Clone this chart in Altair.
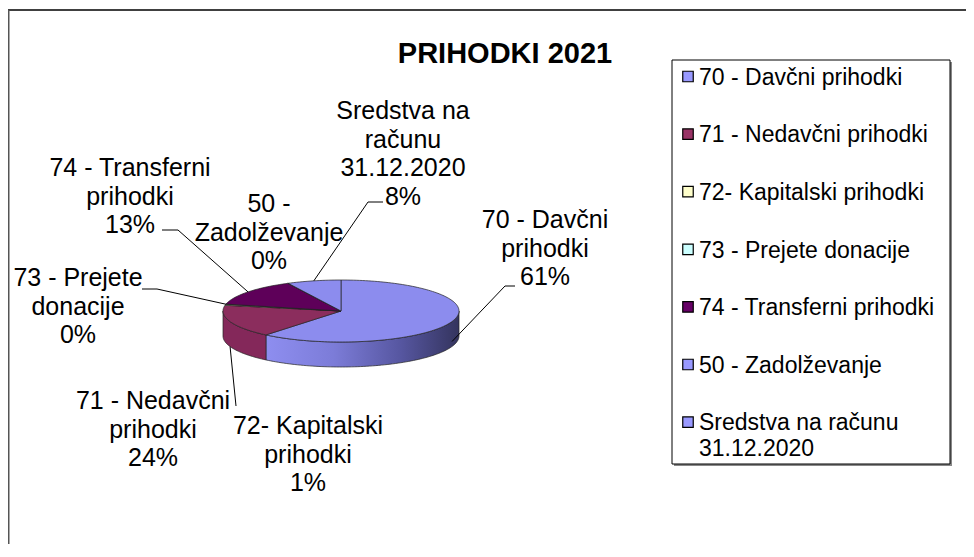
import math
import altair as alt
import pandas as pd

# ---------------- data ----------------
categories = [
    "70 - Davčni prihodki",
    "71 - Nedavčni prihodki",
    "72- Kapitalski prihodki",
    "73 - Prejete donacije",
    "74 - Transferni prihodki",
    "50 - Zadolževanje",
    "Sredstva na računu 31.12.2020",
]
legend_labels = [
    "70 - Davčni prihodki",
    "71 - Nedavčni prihodki",
    "72- Kapitalski prihodki",
    "73 - Prejete donacije",
    "74 - Transferni prihodki",
    "50 - Zadolževanje",
    "Sredstva na računu\n31.12.2020",
]
slice_labels = [
    "70 - Davčni\nprihodki",
    "71 - Nedavčni\nprihodki",
    "72- Kapitalski\nprihodki",
    "73 - Prejete\ndonacije",
    "74 - Transferni\nprihodki",
    "50 -\nZadolževanje",
    "Sredstva na\nračunu\n31.12.2020",
]
# slice shares
shares = [61.0, 17.0, 0.5, 0.1, 14.0, 0.05, 7.4]
# percentages printed on the chart
pct_labels = ["61%", "24%", "1%", "0%", "13%", "0%", "8%"]
chart_title = "PRIHODKI 2021"

# ---------------- style / layout ----------------
top_colors = ["#8C8CEE", "#8B2D5D", "#FFFFCC", "#CCFFFF", "#5E0059", "#8C8CEE", "#8C8CEE"]
side_colors = ["#8C8CEE", "#84285A", "#EEEEBB", "#BBEEEE", "#4A0046", "#7070C8", "#7070C8"]
legend_colors = ["#9999FF", "#993366", "#FFFFCC", "#CCFFFF", "#660066", "#9999FF", "#9999FF"]

CX, CY, RX, RY, DEPTH = 341, 311, 118, 31, 25
FONT = "Liberation Sans"

# label block anchor (center x, first-line baseline y)
label_pos = [(545, 228), (153, 409), (308, 434), (78, 286), (130, 176), (269, 212), (403, 119)]
# leader lines: label-side points (None = no leader) and how far down the wall the pie end sits
leader_elbows = [
    [(515, 286), (505, 286)],
    [(236, 406)],
    None,
    [(142, 289), (157, 289)],
    [(162, 230), (178, 230)],
    None,
    [(383, 202), (368, 202)],
]
leader_depth = [0.8, 1.0, 0, 0, 0, 0, 0]

LEG_X0, LEG_X1, LEG_Y0, LEG_Y1 = 672, 950, 60, 464
LEG_SW_X, LEG_TX, LEG_Y_FIRST, LEG_STEP = 688, 699, 76.5, 57.6


def ept(t_deg, dy=0.0):
    t = math.radians(t_deg)
    return CX + RX * math.sin(t), CY - RY * math.cos(t) + dy


total = sum(shares)
bounds = []
acc = 0.0
for s in shares:
    a = acc / total * 360
    acc += s
    b = acc / total * 360
    bounds.append((a, b))


def arc(a, b, dy=0.0):
    n = max(2, int((b - a) / 1.5) + 2)
    return [ept(a + (b - a) * k / (n - 1), dy) for k in range(n)]


# top faces
top_rows = []
for i, (a, b) in enumerate(bounds):
    pts = [(CX, CY)] + arc(a, b) + [(CX, CY)]
    for k, (x, y) in enumerate(pts):
        top_rows.append({"part": f"top{i}", "i": k, "x": x, "y": y, "fill": top_colors[i]})
top_df = pd.DataFrame(top_rows)

# side walls (front half only: 90..270 degrees)
side_rows = []
grad_rows = []
for i, (a, b) in enumerate(bounds):
    lo, hi = max(a, 90), min(b, 270)
    if hi <= lo:
        continue
    upper = arc(lo, hi)
    lower = arc(lo, hi, DEPTH)[::-1]
    pts = upper + lower + [upper[0]]
    for k, (x, y) in enumerate(pts):
        row = {"part": f"side{i}", "i": k, "x": x, "y": y, "fill": side_colors[i]}
        (grad_rows if i == 0 else side_rows).append(row)
side_df = pd.DataFrame(side_rows)
grad_df = pd.DataFrame(grad_rows)

# leader lines
lead_rows = []
for i, el in enumerate(leader_elbows):
    if el is None:
        continue
    a, b = bounds[i]
    pe = ept((a + b) / 2, DEPTH * leader_depth[i])
    pts = list(el) + [pe]
    for k, (x, y) in enumerate(pts):
        lead_rows.append({"line": f"l{i}", "i": k, "x": x, "y": y})
lead_df = pd.DataFrame(lead_rows)

label_df = pd.DataFrame({
    "x": [p[0] for p in label_pos],
    "y": [p[1] for p in label_pos],
    "text": [slice_labels[i] + "\n" + pct_labels[i] for i in range(len(categories))],
})

legend_df = pd.DataFrame({
    "label": legend_labels,
    "color": legend_colors,
    "xs": [LEG_SW_X] * len(categories),
    "xt": [LEG_TX] * len(categories),
    "ys": [LEG_Y_FIRST + k * LEG_STEP for k in range(len(categories))],
    "yt": [LEG_Y_FIRST + 8.3 + k * LEG_STEP for k in range(len(categories))],
})

frame_df = pd.DataFrame({
    "x": [8, 8.5], "x2": [980, 8.5], "y": [10, 10], "y2": [10, 560],
    "c": ["#000000", "#555555"], "w": [1.5, 2.0],
})
box_df = pd.DataFrame({"x": [LEG_X0], "x2": [LEG_X1], "y": [LEG_Y0], "y2": [LEG_Y1]})
shadow_df = pd.DataFrame({"x": [LEG_X0 + 2], "x2": [LEG_X1 + 2], "y": [LEG_Y0 + 2], "y2": [LEG_Y1 + 2]})
title_df = pd.DataFrame({"x": [505], "y": [63], "t": [chart_title]})

# ---------------- scales ----------------
XS = alt.Scale(domain=[8, 966], nice=False, zero=False)
YS = alt.Scale(domain=[8, 544], nice=False, zero=False, reverse=True)


def X(f="x"):
    return alt.X(f"{f}:Q", scale=XS, axis=None)


def Y(f="y"):
    return alt.Y(f"{f}:Q", scale=YS, axis=None)


frame = alt.Chart(frame_df).mark_rule().encode(
    x=X(), x2="x2:Q", y=Y(), y2="y2:Q",
    color=alt.Color("c:N", scale=None), strokeWidth=alt.StrokeWidth("w:Q", scale=None),
)
shadow = alt.Chart(shadow_df).mark_rect(fill="#888888").encode(x=X(), x2="x2:Q", y=Y(), y2="y2:Q")
box = alt.Chart(box_df).mark_rect(fill="white", stroke="black", strokeWidth=1).encode(
    x=X(), x2="x2:Q", y=Y(), y2="y2:Q")

sides = alt.Chart(side_df).mark_line(filled=True, stroke="#222222", strokeWidth=0.7).encode(
    x=X(), y=Y(), order="i:Q", detail="part:N", color=alt.Color("fill:N", scale=None))
grad_side = alt.Chart(grad_df).mark_line(
    filled=True,
    fill=alt.Gradient(
        gradient="linear",
        stops=[
            alt.GradientStop(color="#8E8EF0", offset=0),
            alt.GradientStop(color="#7C7CD8", offset=0.35),
            alt.GradientStop(color="#5656A0", offset=0.7),
            alt.GradientStop(color="#34345E", offset=1),
        ],
        x1=0, x2=1, y1=0, y2=0,
    ),
    stroke="#222222", strokeWidth=0.7,
).encode(x=X(), y=Y(), order="i:Q", detail="part:N")
tops = alt.Chart(top_df).mark_line(filled=True, stroke="#222222", strokeWidth=0.7).encode(
    x=X(), y=Y(), order="i:Q", detail="part:N", color=alt.Color("fill:N", scale=None))

leaders = alt.Chart(lead_df).mark_line(color="black", strokeWidth=1).encode(
    x=X(), y=Y(), order="i:Q", detail="line:N")

labels = alt.Chart(label_df).mark_text(
    align="center", baseline="alphabetic", lineBreak="\n", fontSize=25, lineHeight=28.5,
    font=FONT, color="black",
).encode(x=X(), y=Y(), text="text:N")

title = alt.Chart(title_df).mark_text(
    align="center", baseline="alphabetic", fontSize=29, fontWeight="bold", font=FONT, color="black",
).encode(x=X(), y=Y(), text="t:N")

swatches = alt.Chart(legend_df).mark_square(size=110, filled=True, stroke="black", strokeWidth=1.2, opacity=1).encode(
    x=X("xs"), y=Y("ys"), color=alt.Color("color:N", scale=None))
leg_text = alt.Chart(legend_df).mark_text(
    align="left", baseline="alphabetic", lineBreak="\n", fontSize=23, lineHeight=26, font=FONT, color="black",
).encode(x=X("xt"), y=Y("yt"), text="label:N")

chart = alt.layer(
    frame, shadow, box, grad_side, sides, tops, leaders, labels, title, swatches, leg_text
).properties(
    width=958, height=536, autosize=alt.AutoSizeParams(type="none"), padding=0,
).configure_view(stroke=None)

chart.save("out.html", embed_options={"renderer": "svg", "actions": False})
